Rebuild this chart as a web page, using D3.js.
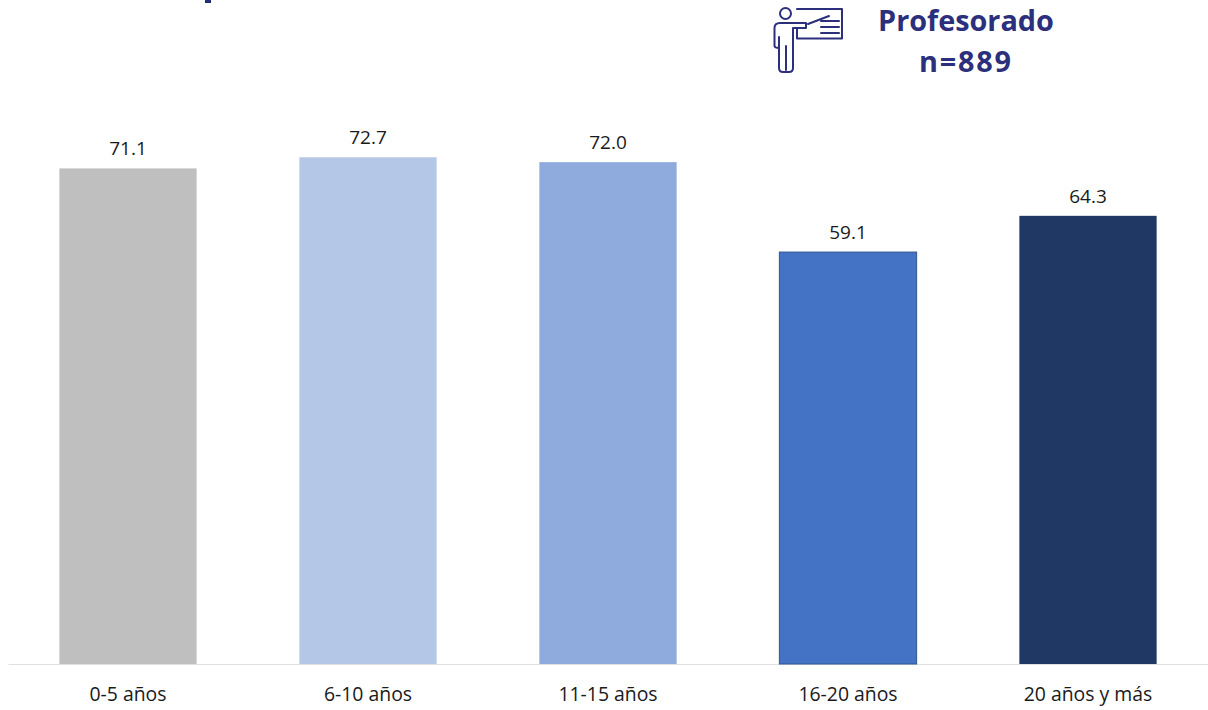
<!DOCTYPE html>
<html><head><meta charset="utf-8">
<script src="https://cdnjs.cloudflare.com/ajax/libs/d3/7.8.5/d3.min.js"></script>
<style>html,body{margin:0;padding:0;background:#fff}svg{display:block}</style>
</head><body><svg id="c" width="1208" height="710"></svg>
<script>
const categories = ["0-5 años","6-10 años","11-15 años","16-20 años","20 años y más"];
const values = [71.1,72.7,72.0,59.1,64.3];
const labels = ["71.1","72.7","72.0","59.1","64.3"];
const colors = ["#bfbfbf","#b4c7e7","#8faadc","#4472c4","#203864"];
const headerLines = ["Profesorado","n=889"];

const svg = d3.select("#c");
const font = "'Open Sans', sans-serif";
const x = d3.scaleBand().domain(categories).range([8,1208]).paddingInner(0.428).paddingOuter(0.214);
const y = d3.scaleLinear().domain([0,80]).range([664,106.4]);

// axis
const ax = svg.append("g").attr("transform","translate(0,664)").call(d3.axisBottom(x).tickSize(0).tickPadding(23.5));
ax.select(".domain").attr("stroke","#e0e0e0").attr("stroke-width",1);
ax.selectAll("text").attr("font-family",font).attr("font-size",19.4).attr("fill","#1a1a1a");

// bars
svg.append("g").selectAll("rect").data(values).join("rect")
  .attr("x",(d,i)=>x(categories[i])).attr("width",x.bandwidth())
  .attr("y",d=>y(d)).attr("height",d=>y(0)-y(d))
  .attr("fill",(d,i)=>colors[i])
  .attr("stroke",(d,i)=>i===3?"#2f5597":"none").attr("stroke-width",1);

// value labels
svg.append("g").selectAll("text").data(values).join("text")
  .attr("x",(d,i)=>x(categories[i])+x.bandwidth()/2).attr("y",d=>y(d)-13)
  .attr("text-anchor","middle").attr("font-family",font).attr("font-size",19).attr("fill","#1a1a1a")
  .text((d,i)=>labels[i]);

// header
svg.append("g").selectAll("text").data(headerLines).join("text")
  .attr("x",966).attr("y",(d,i)=>31+i*41)
  .attr("text-anchor","middle").attr("font-family",font).attr("font-weight",700).attr("font-size",28.8).attr("fill","#2b2f7c")
  .attr("letter-spacing",(d,i)=>i===1?1.8:0)
  .text(d=>d);

// clipped fragment of a title at the top edge
svg.append("rect").attr("x",205).attr("y",0).attr("width",6).attr("height",3).attr("fill","#1f2f72");

// presenter icon
const ic = svg.append("g").attr("fill","none").attr("stroke","#2b2f7c").attr("stroke-width",2).attr("stroke-linejoin","round").attr("stroke-linecap","round");
ic.append("path").attr("d","M797 9H842V38.5H797V28");
ic.append("circle").attr("cx",785.5).attr("cy",13.5).attr("r",5.5);
ic.append("path").attr("d","M774.5 46V28Q774.5 23 780 23H806V28H793V68Q793 72 789 72H783Q779 72 779 68V37M786 46V70M774.5 46Q775 48 779 48");
ic.append("path").attr("d","M808 24L829 16");
ic.append("path").attr("d","M821 21H839M821 27H839M821 33H839");
</script></body></html>
